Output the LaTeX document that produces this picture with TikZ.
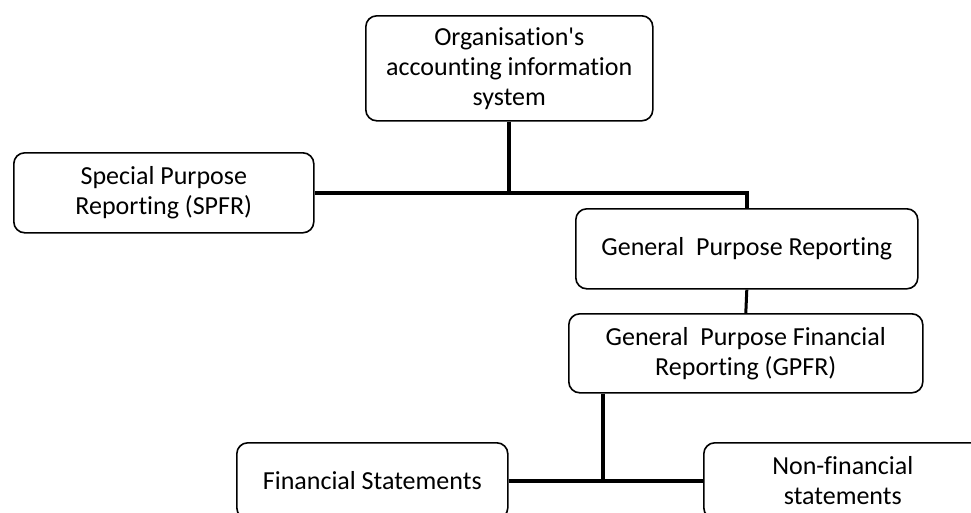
\documentclass[tikz,border=0pt]{standalone}
\usepackage{fontspec}
\newfontfamily\bodyfont{Carlito}[Ligatures=NoCommon]
\begin{document}
\begin{tikzpicture}[x=1pt,y=-1pt,
  box/.style={draw=black,line width=1.6pt,rounded corners=11pt,align=center,
    font=\bodyfont\fontsize{26}{30}\selectfont,inner sep=0pt,anchor=north west},
  link/.style={line width=4pt},
  thinlink/.style={line width=3pt}]
\useasboundingbox (0,0) rectangle (971,512);
\clip (0,0) rectangle (971,512);
\node[box,minimum width=287pt,minimum height=105pt] (top) at (365,15) {Organisation's\\accounting information\\system};
\node[box,minimum width=300pt,minimum height=80pt] (spfr) at (13,152) {Special Purpose\\Reporting (SPFR)};
\node[box,minimum width=342pt,minimum height=80pt] (gpr) at (575,208) {General~~Purpose Reporting};
\node[box,minimum width=354pt,minimum height=79pt] (gpfr) at (568,313) {General~~Purpose Financial\\Reporting (GPFR)};
\node[box,minimum width=271pt,minimum height=76pt] (fin) at (236,442) {Financial Statements};
\node[box,minimum width=278pt,minimum height=76pt] (nonfin) at (703,442) {Non-financial\\statements};
\coordinate (j) at (603,480);
\draw[link] (top.south) |- (spfr.east);
\draw[link] (top.south |- spfr.east) -| (gpr.north);
\draw[thinlink] (gpr.south) -- (gpfr.north);
\draw[link] (gpfr.south -| j) -- (j);
\draw[link] (fin.east) -- (nonfin.west);
\end{tikzpicture}
\end{document}
